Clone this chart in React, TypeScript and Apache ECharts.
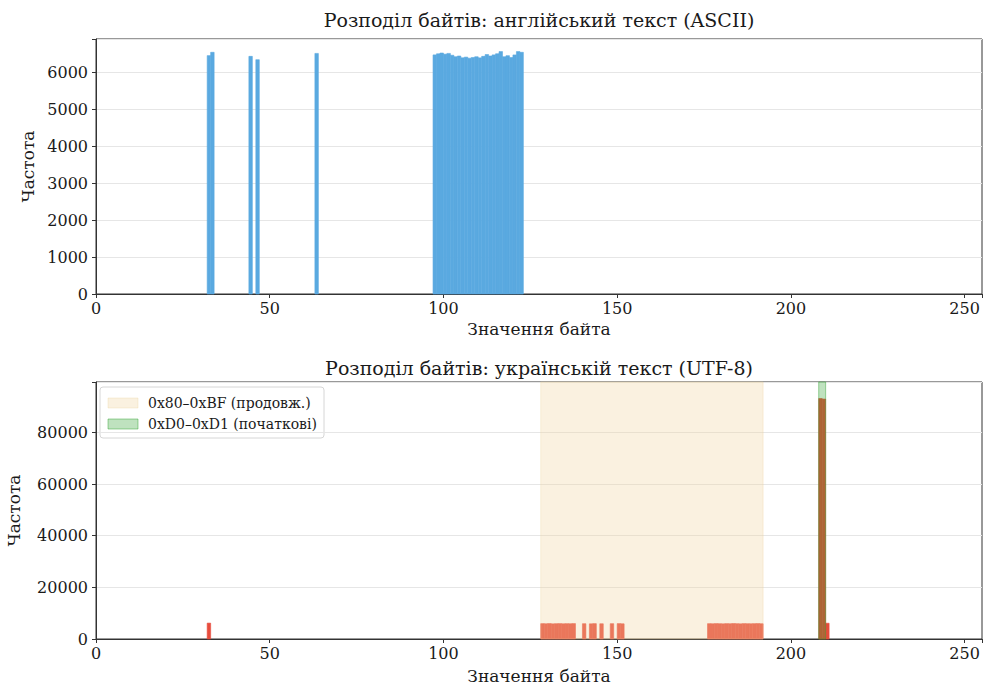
import React, { useEffect, useRef } from "react";
import * as echarts from "echarts";

// ---- data ----
const asciiBytes = [32, 33, 44, 46, 63, 97, 98, 99, 100, 101, 102, 103, 104, 105, 106, 107, 108, 109, 110, 111, 112, 113, 114, 115, 116, 117, 118, 119, 120, 121, 122];
const asciiCounts = [6450, 6540, 6430, 6340, 6510, 6470, 6500, 6520, 6490, 6510, 6460, 6420, 6440, 6390, 6410, 6380, 6400, 6420, 6390, 6430, 6480, 6440, 6470, 6500, 6560, 6420, 6450, 6400, 6470, 6560, 6540];

const utf8Bytes = [32, 128, 129, 130, 131, 132, 133, 134, 135, 136, 137, 140, 142, 143, 145, 148, 150, 151, 176, 177, 178, 179, 180, 181, 182, 183, 184, 185, 186, 187, 188, 189, 190, 191, 208, 209, 210];
const utf8Counts = [6150, 5950, 5900, 5980, 5870, 5930, 5960, 5890, 5940, 5910, 5970, 5920, 5880, 5950, 5900, 5930, 5960, 5890, 5940, 5900, 5970, 5920, 5880, 5950, 5910, 5990, 5930, 5870, 5960, 5920, 5900, 5940, 5980, 5910, 93100, 92900, 6100];

const spanStarts = [128, 208];
const spanEnds = [192, 210];
const spanLabels = ["0x80–0xBF (продовж.)", "0xD0–0xD1 (початкові)"];

const xTicks = [0, 50, 100, 150, 200, 250];
const topYTicks = [0, 1000, 2000, 3000, 4000, 5000, 6000];
const bottomYTicks = [0, 20000, 40000, 60000, 80000];

const titles = ["Розподіл байтів: англійський текст (ASCII)", "Розподіл байтів: українській текст (UTF-8)"];
const xName = "Значення байта";
const yName = "Частота";

const FONT = "DejaVu Serif";
const TXT = "#1a1a1a";
const spanFills = ["rgba(240,210,160,0.32)", "rgba(44,160,44,0.3)"];
const spanStrokes = ["rgba(240,210,160,0.32)", "rgba(44,160,44,0.45)"];

function barRender(color: string) {
  return (params: any, api: any) => {
    const x = api.value(0);
    const v = api.value(1);
    const p0 = api.coord([x, 0]);
    const p1 = api.coord([x + 1, v]);
    return {
      type: "rect",
      shape: { x: p0[0], y: p1[1], width: p1[0] - p0[0], height: p0[1] - p1[1] },
      style: { fill: color, stroke: color, lineWidth: 0.6 },
    };
  };
}

function spanRender(params: any, api: any) {
  const idx = params.dataIndex;
  const a = api.coord([api.value(0), 0]);
  const b = api.coord([api.value(1), 0]);
  const cs = params.coordSys;
  return {
    type: "rect",
    shape: { x: a[0], y: cs.y, width: b[0] - a[0], height: cs.height },
    style: { fill: spanFills[idx], stroke: spanStrokes[idx], lineWidth: 1 },
  };
}

export default function App() {
  const ref = useRef<HTMLDivElement>(null);
  useEffect(() => {
    if (!ref.current) return;
    const chart = echarts.init(ref.current, undefined, { renderer: "svg" });

    const gridL = 96;
    const gridR = 982;
    const xAxisCommon = (gi: number) => ({
      type: "value" as const,
      gridIndex: gi,
      min: 0,
      max: 255,
      interval: 50,
      name: xName,
      nameLocation: "middle" as const,
      nameGap: gi === 0 ? 26 : 28,
      nameTextStyle: { fontFamily: FONT, fontSize: 17, color: TXT },
      axisLine: { show: true, lineStyle: { color: "#333", width: 1 } },
      axisTick: { show: true, inside: false, length: 4, lineStyle: { color: "#333" } },
      axisLabel: {
        fontFamily: FONT,
        fontSize: 16,
        color: TXT,
        margin: 6,
        formatter: (v: number) => (xTicks.includes(v) ? String(v) : ""),
      },
      splitLine: { show: false },
    });
    const yAxisCommon = (gi: number, max: number, interval: number, ticks: number[], gap: number) => ({
      type: "value" as const,
      gridIndex: gi,
      min: 0,
      max,
      interval,
      name: yName,
      nameLocation: "middle" as const,
      nameGap: gap,
      nameTextStyle: { fontFamily: FONT, fontSize: 17, color: TXT },
      axisLine: { show: true, lineStyle: { color: "#333", width: 1 } },
      axisTick: { show: true, inside: false, length: 4, lineStyle: { color: "#333" } },
      axisLabel: {
        fontFamily: FONT,
        fontSize: 16,
        color: TXT,
        margin: 8,
        formatter: (v: number) => (ticks.includes(v) ? String(v) : ""),
      },
      splitLine: { show: true, lineStyle: { color: "#e6e6e6", width: 1 } },
    });

    const legendItems: any[] = [
      {
        type: "rect",
        shape: { x: 100, y: 387, width: 224, height: 51, r: 3 },
        style: { fill: "rgba(255,255,255,0.85)", stroke: "#d6d6d6", lineWidth: 1 },
      },
    ];
    spanLabels.forEach((lab, i) => {
      const cy = 403 + i * 21;
      legendItems.push({
        type: "rect",
        shape: { x: 108, y: cy - 5, width: 30, height: 10 },
        style: { fill: spanFills[i], stroke: spanStrokes[i], lineWidth: 1 },
      });
      legendItems.push({
        type: "text",
        x: 148,
        y: cy,
        style: {
          text: lab,
          fontFamily: FONT,
          fontSize: 14,
          fill: TXT,
          textVerticalAlign: "middle",
          textAlign: "left",
        },
      });
    });

    const gridCommon = {
      left: gridL,
      width: gridR - gridL,
      show: true,
      borderColor: "#333",
      borderWidth: 1,
      backgroundColor: "transparent",
      containLabel: false,
      outerBoundsMode: "none",
    };

    chart.setOption({
      animation: false,
      backgroundColor: "#fff",
      grid: [
        { ...gridCommon, top: 39, height: 255 },
        { ...gridCommon, top: 382, height: 257 },
      ],
      xAxis: [xAxisCommon(0), xAxisCommon(1)],
      yAxis: [
        yAxisCommon(0, 6900, 1000, topYTicks, 57),
        yAxisCommon(1, 99500, 20000, bottomYTicks, 74),
      ],
      series: [
        {
          type: "custom",
          xAxisIndex: 0,
          yAxisIndex: 0,
          renderItem: barRender("#5aa9e0"),
          encode: { x: 0, y: 1 },
          data: asciiBytes.map((b, i) => [b, asciiCounts[i]]),
          z: 2,
        },
        {
          type: "custom",
          xAxisIndex: 1,
          yAxisIndex: 1,
          renderItem: barRender("#e74c3c"),
          encode: { x: 0, y: 1 },
          data: utf8Bytes.map((b, i) => [b, utf8Counts[i]]),
          z: 2,
        },
        {
          type: "custom",
          xAxisIndex: 1,
          yAxisIndex: 1,
          renderItem: spanRender,
          encode: { x: [0, 1] },
          data: spanStarts.map((s, i) => [s, spanEnds[i]]),
          z: 3,
        },
      ],
      graphic: [
        {
          type: "text",
          x: 539,
          y: 20,
          style: { text: titles[0], fontFamily: FONT, fontSize: 19, fill: TXT, textAlign: "center", textVerticalAlign: "middle" },
        },
        {
          type: "text",
          x: 539,
          y: 368,
          style: { text: titles[1], fontFamily: FONT, fontSize: 19, fill: TXT, textAlign: "center", textVerticalAlign: "middle" },
        },
        { type: "group", children: legendItems, z: 10 },
      ],
    });
    return () => chart.dispose();
  }, []);
  return <div ref={ref} style={{ position: "fixed", left: 0, top: 0, width: 984, height: 686 }} />;
}
